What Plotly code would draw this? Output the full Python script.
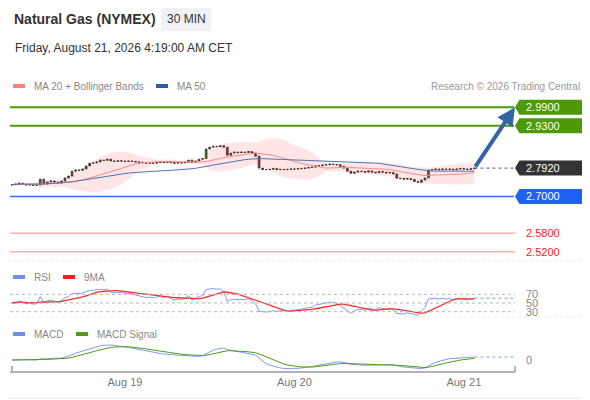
import pandas as pd
import plotly.graph_objects as go

# 30 min closes, Natural Gas (NYMEX)
closes = [
    2.738, 2.740, 2.743, 2.740, 2.737, 2.738, 2.736, 2.737, 2.756, 2.740,
    2.747, 2.750, 2.747, 2.743, 2.750, 2.760, 2.766, 2.782, 2.786, 2.785,
    2.789, 2.799, 2.808, 2.809, 2.812, 2.818, 2.817, 2.821, 2.815, 2.814,
    2.816, 2.815, 2.814, 2.815, 2.814, 2.812, 2.811, 2.810, 2.808, 2.809,
    2.808, 2.810, 2.812, 2.810, 2.813, 2.810, 2.808, 2.810, 2.809, 2.811,
    2.818, 2.811, 2.815, 2.821, 2.823, 2.854, 2.860, 2.863, 2.862, 2.865,
    2.860, 2.834, 2.841, 2.844, 2.842, 2.844, 2.843, 2.846, 2.841, 2.831,
    2.792, 2.787, 2.787, 2.788, 2.791, 2.787, 2.788, 2.787, 2.788, 2.789,
    2.789, 2.790, 2.791, 2.792, 2.794, 2.795, 2.799, 2.800, 2.802, 2.803,
    2.805, 2.804, 2.803, 2.798, 2.792, 2.782, 2.775, 2.779, 2.782, 2.781,
    2.779, 2.783, 2.779, 2.777, 2.781, 2.779, 2.776, 2.778, 2.773, 2.759,
    2.758, 2.756, 2.758, 2.755, 2.748, 2.746, 2.753, 2.760, 2.786, 2.787,
    2.789, 2.787, 2.789, 2.788, 2.789, 2.787, 2.789, 2.791, 2.789, 2.788,
    2.790, 2.792,
]
first_open = 2.737
start_time = "2026-08-18 08:00"
# average 30 min gain / loss before the first bar (seed for the RSI)
rsi_seed = 0.002

resistances = [2.99, 2.93]
pivot = 2.70
supports = [2.58, 2.52]
last_price = 2.792
target = 2.99

day_ticks = ["2026-08-19", "2026-08-20", "2026-08-21"]
day_labels = ["Aug 19", "Aug 20", "Aug 21"]

# page body has an 8px margin, so the figure sits at (8, 8)
OFF = 8
FW, FH = 582, 392


def px(x):
    return (x - OFF) / FW


def py(y):
    return 1 - (y - OFF) / FH


df = pd.DataFrame({"close": closes})
df["time"] = pd.date_range(start_time, periods=len(df), freq="30min")
df["open"] = df["close"].shift(1).fillna(first_open)
df["high"] = df[["open", "close"]].max(axis=1)
df["low"] = df[["open", "close"]].min(axis=1)

# indicators
df["ma20"] = df["close"].rolling(20, min_periods=1).mean()
sd = df["close"].rolling(20, min_periods=2).std().bfill()
df["bb_up"] = df["ma20"] + 2 * sd
df["bb_dn"] = df["ma20"] - 2 * sd
df["ma50"] = df["close"].rolling(50, min_periods=1).mean()

delta = df["close"].diff()
up = delta.clip(lower=0)
down = -delta.clip(upper=0)
up.iloc[0] = rsi_seed
down.iloc[0] = rsi_seed
gain = up.ewm(alpha=1 / 14, adjust=False).mean()
loss = down.ewm(alpha=1 / 14, adjust=False).mean()
df["rsi"] = 100 - 100 / (1 + gain / loss)
df["rsi_ma"] = df["rsi"].rolling(9, min_periods=1).mean()

ema12 = df["close"].ewm(span=12, adjust=False).mean()
ema26 = df["close"].ewm(span=26, adjust=False).mean()
df["macd"] = ema12 - ema26
df["signal"] = df["macd"].ewm(span=9, adjust=False).mean()

step = pd.Timedelta(minutes=30)
t0 = df["time"].iloc[0]
x_start = t0 - 0.57 * step
x_end = t0 + 142.5 * step
t_last = df["time"].iloc[-1]

fig = go.Figure()

# bollinger band
fig.add_trace(go.Scatter(x=df["time"], y=df["bb_up"], mode="lines", line=dict(width=0, shape="spline"),
                         hoverinfo="skip"))
fig.add_trace(go.Scatter(x=df["time"], y=df["bb_dn"], mode="lines", line=dict(width=0, shape="spline"),
                         fill="tonexty", fillcolor="rgba(255,0,0,0.1)", hoverinfo="skip"))
fig.add_trace(go.Scatter(x=df["time"], y=df["ma20"], mode="lines", line=dict(color="#ff8c8c", width=1)))
fig.add_trace(go.Scatter(x=df["time"], y=df["ma50"], mode="lines", line=dict(color="#4d74b3", width=1)))

fig.add_trace(go.Candlestick(
    x=df["time"], open=df["open"], high=df["high"], low=df["low"], close=df["close"],
    increasing=dict(line=dict(color="#333333", width=0.8), fillcolor="#3a8127"),
    decreasing=dict(line=dict(color="#333333", width=0.8), fillcolor="#d81e1e"),
    whiskerwidth=0,
))

# last price dotted extension
fig.add_trace(go.Scatter(x=[t_last, x_end], y=[last_price, last_price], mode="lines",
                         line=dict(color="#555555", width=1, dash="dot")))

# RSI
fig.add_trace(go.Scatter(x=df["time"], y=df["rsi"], mode="lines", line=dict(color="#7d9cf0", width=1), yaxis="y2"))
fig.add_trace(go.Scatter(x=df["time"], y=df["rsi_ma"], mode="lines", line=dict(color="#ff2b2b", width=1.3), yaxis="y2"))
fig.add_trace(go.Scatter(x=[t_last, x_end], y=[df["rsi"].iloc[-1]] * 2, mode="lines",
                         line=dict(color="#7d9cf0", width=1, dash="dot"), yaxis="y2"))

# MACD
fig.add_trace(go.Scatter(x=df["time"], y=df["macd"], mode="lines", line=dict(color="#7d9cf0", width=1), yaxis="y3"))
fig.add_trace(go.Scatter(x=df["time"], y=df["signal"], mode="lines", line=dict(color="#4f9a1a", width=1), yaxis="y3"))
fig.add_trace(go.Scatter(x=[t_last, x_end], y=[df["macd"].iloc[-1]] * 2, mode="lines",
                         line=dict(color="#7d9cf0", width=1, dash="dot"), yaxis="y3"))

shapes = []
annotations = []


def text(x, y, s, size, color, xanchor="left", yref="paper"):
    yy = py(y) if yref == "paper" else y
    annotations.append(dict(x=px(x), y=yy, xref="paper", yref=yref, text=s, showarrow=False,
                            xanchor=xanchor, yanchor="middle", font=dict(size=size, color=color)))


# card border and separators
shapes.append(dict(type="rect", xref="paper", yref="paper", x0=px(1), x1=px(588), y0=py(398), y1=py(1),
                   line=dict(color="#e4e7eb", width=1)))
for ys in [261, 317]:
    shapes.append(dict(type="line", xref="paper", yref="paper", x0=0, x1=1, y0=py(ys), y1=py(ys),
                       line=dict(color="#ececec", width=1, dash="dot")))


def level_box(level, color):
    h = 7.5 / 307.2
    xt, xl, xr = px(515), px(519.5), px(587)
    path = (f"M {xt},{level} L {xl},{level + h} L {xr},{level + h} "
            f"L {xr},{level - h} L {xl},{level - h} Z")
    shapes.append(dict(type="path", xref="paper", yref="y", path=path, fillcolor=color, line=dict(width=0)))
    text(524, level, f"{level:.4f}", 11, "white", yref="y")


for lv in resistances:
    shapes.append(dict(type="line", xref="paper", yref="y", x0=px(10), x1=px(514), y0=lv, y1=lv,
                       line=dict(color="#4d9a06", width=2)))
    level_box(lv, "#4d9a06")

shapes.append(dict(type="line", xref="paper", yref="y", x0=px(10), x1=px(514), y0=pivot, y1=pivot,
                   line=dict(color="#2f6ff0", width=1.5)))
level_box(pivot, "#1f62f2")
level_box(last_price, "#333333")

for lv in supports:
    shapes.append(dict(type="line", xref="paper", yref="y", x0=px(10), x1=px(515), y0=lv, y1=lv,
                       line=dict(color="#ffb0b0", width=1.5)))
    text(524, lv, f"{lv:.4f}", 11, "#ff2020", yref="y")

# target arrow
annotations.append(dict(x=x_end, y=target, xref="x", yref="y", ax=t_last, ay=last_price, axref="x", ayref="y",
                        text="", showarrow=True, arrowhead=2, arrowsize=0.9, arrowwidth=4,
                        arrowcolor="#3463a6", standoff=0))

# RSI levels
for lv in [70, 50, 30]:
    shapes.append(dict(type="line", xref="paper", yref="y2", x0=px(10), x1=px(515), y0=lv, y1=lv,
                       line=dict(color="#b5b5b5", width=1, dash="dot")))
    text(524, lv, str(lv), 11, "#888888", yref="y2")
text(524, 0, "0", 11, "#888888", yref="y3")

# x axis end ticks
for xe in [12, 515]:
    shapes.append(dict(type="line", xref="paper", yref="paper", x0=px(xe), x1=px(xe), y0=py(372), y1=py(366),
                       line=dict(color="#b3b3b3", width=2)))

# header
text(12, 19, "<b>Natural Gas (NYMEX)</b>", 14, "#333333")
shapes.append(dict(type="rect", xref="paper", yref="paper", x0=px(161), x1=px(211), y0=py(31), y1=py(7),
                   fillcolor="#eff1f4", line=dict(width=0)))
text(186, 19, "30 MIN", 12, "#333333", xanchor="center")
text(13, 48, "Friday, August 21, 2026 4:19:00 AM CET", 12, "#333333")
text(582, 86, "Research © 2026 Trading Central", 10, "#999999", xanchor="right")

# legends
legend_items = [
    (13, 86, "#ff8080", "MA 20 + Bollinger Bands"),
    (156, 86, "#2f5e9e", "MA 50"),
    (13, 277, "#6d8fe8", "RSI"),
    (63, 277, "#ff1a1a", "9MA"),
    (13, 334, "#6d8fe8", "MACD"),
    (76, 334, "#4f9a1a", "MACD Signal"),
]
for xs, ys, col, label in legend_items:
    shapes.append(dict(type="rect", xref="paper", yref="paper", x0=px(xs), x1=px(xs + 12), y0=py(ys + 2),
                       y1=py(ys - 2), fillcolor=col, line=dict(width=0)))
    text(xs + 19, ys, label, 10, "#888888")

fig.update_layout(
    width=FW, height=FH,
    margin=dict(l=0, r=0, t=0, b=0),
    paper_bgcolor="white", plot_bgcolor="rgba(0,0,0,0)",
    showlegend=False,
    font=dict(family="Liberation Sans, Arial, sans-serif"),
    shapes=shapes, annotations=annotations,
    xaxis=dict(domain=[px(10), px(515)], range=[x_start, x_end], anchor="free", position=py(372),
               showline=True, linecolor="#b3b3b3", linewidth=2, showgrid=False, zeroline=False,
               tickvals=day_ticks, ticktext=day_labels, ticks="", tickfont=dict(size=11, color="#777777"),
               rangeslider=dict(visible=False)),
    yaxis=dict(domain=[py(260), py(95)], range=[2.4929, 3.030], visible=False),
    yaxis2=dict(domain=[py(324.75), py(281.3)], range=[0, 100], visible=False, anchor="x"),
    yaxis3=dict(domain=[py(382.75), py(337.25)], range=[-0.03, 0.03], visible=False, anchor="x"),
)

fig.write_html("out.html")
